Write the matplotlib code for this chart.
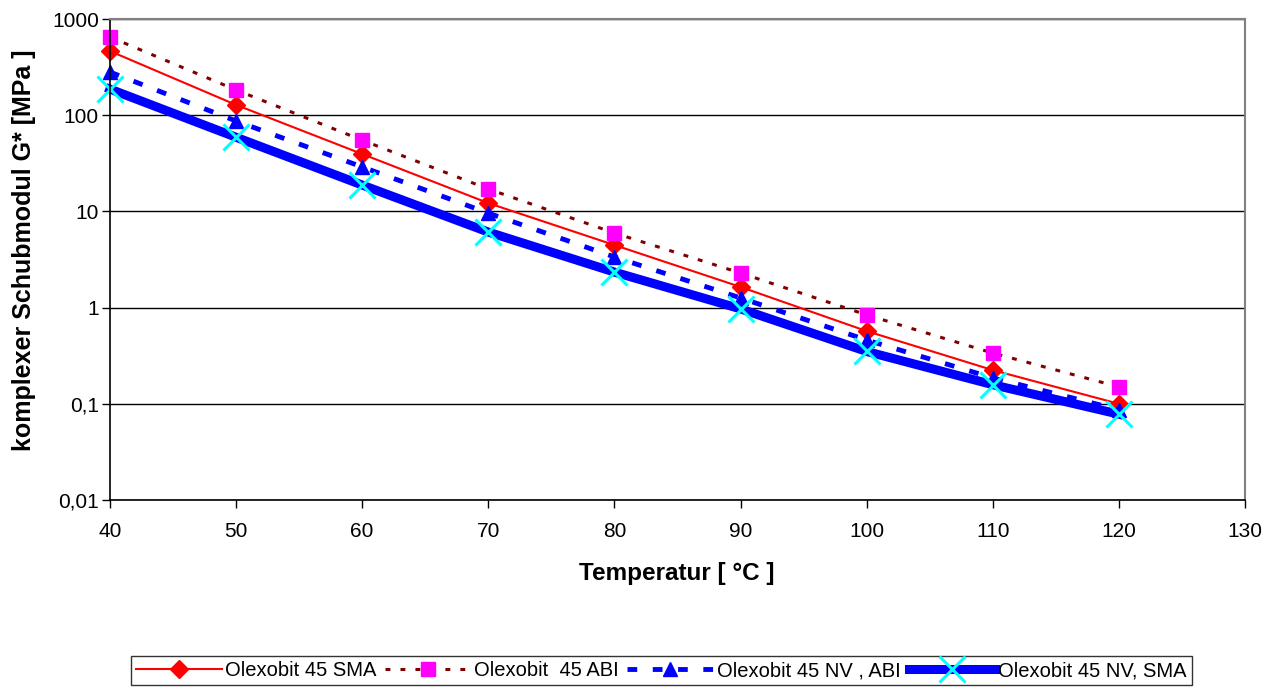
import matplotlib
matplotlib.use("Agg")
import matplotlib.pyplot as plt
from matplotlib.ticker import FixedLocator, FixedFormatter, NullLocator

plt.rcParams['font.family'] = ['Liberation Sans', 'DejaVu Sans']

# ========== Daten
temperatur = [40, 50, 60, 70, 80, 90, 100, 110, 120]
g_sma = [464, 128, 39.5, 12.2, 4.47, 1.64, 0.57, 0.224, 0.10]
g_abi = [650, 183, 55, 17.1, 5.96, 2.29, 0.84, 0.337, 0.15]
g_nv_abi = [281, 87, 29, 9.6, 3.36, 1.26, 0.46, 0.186, 0.087]
g_nv_sma = [187, 59, 18.8, 6.1, 2.34, 0.97, 0.35, 0.158, 0.078]

labels = ["Olexobit 45 SMA", "Olexobit  45 ABI", "Olexobit 45 NV , ABI", "Olexobit 45 NV, SMA"]
y_ticks = [0.01, 0.1, 1, 10, 100, 1000]
y_ticklabels = ["0,01", "0,1", "1", "10", "100", "1000"]
x_ticks = [40, 50, 60, 70, 80, 90, 100, 110, 120, 130]

fig = plt.figure(figsize=(12.74, 6.91), dpi=100)
ax = fig.add_axes([0.0863, 0.2764, 0.8909, 0.6961])

ax.plot(temperatur, g_sma, color='#FF0000', lw=1.5, marker='D', ms=9.5,
        mfc='#FF0000', mec='#FF0000', label=labels[0], clip_on=False)
ax.plot(temperatur, g_abi, color='#800000', lw=2.2, ls=(0, (1.6, 3.3)), marker='s', ms=10.5,
        mfc='#FF00FF', mec='#FF00FF', label=labels[1], clip_on=False)
ax.plot(temperatur, g_nv_abi, color='#0000FF', lw=3.5, ls=(0, (2.0, 3.2)), marker='^', ms=10,
        mfc='#0000FF', mec='#0000FF', label=labels[2], clip_on=False)
ax.plot(temperatur, g_nv_sma, color='#0000FF', lw=6.5, marker='x', ms=19, mew=2.2,
        mfc='#00FFFF', mec='#00FFFF', label=labels[3], clip_on=False)

ax.set_yscale('log')
ax.set_ylim(0.01, 1000)
ax.set_xlim(40, 130)

ax.yaxis.set_major_locator(FixedLocator(y_ticks))
ax.yaxis.set_major_formatter(FixedFormatter(y_ticklabels))
ax.yaxis.set_minor_locator(NullLocator())
ax.set_xticks(x_ticks)

ax.grid(axis='y', color='black', lw=1)
ax.set_axisbelow(True)
ax.tick_params(axis='both', direction='out', length=6, width=1, labelsize=15, colors='black')
ax.tick_params(axis='x', pad=10)
ax.tick_params(axis='y', pad=2)

for s in ['left', 'bottom']:
    ax.spines[s].set_color('black')
    ax.spines[s].set_linewidth(1.2)
for s in ['right', 'top']:
    ax.spines[s].set_color('#808080')
    ax.spines[s].set_linewidth(1.5)

ax.set_xlabel("Temperatur [ °C ]", fontsize=17.5, fontweight='bold')
ax.set_ylabel("komplexer Schubmodul G* [MPa ]", fontsize=18, fontweight='bold')
ax.xaxis.set_label_coords(0.499, -0.129)
ax.yaxis.set_label_coords(-0.0655, 0.52)

leg = fig.legend(loc='center', bbox_to_anchor=(0.519, 0.029), ncol=4, fontsize=14.5,
                 frameon=True, fancybox=False, edgecolor='black', handlelength=4.3,
                 handletextpad=0.15, columnspacing=0.4, borderpad=0.25, borderaxespad=0)
leg.get_frame().set_linewidth(1)

fig.savefig("out.png", dpi=100)
